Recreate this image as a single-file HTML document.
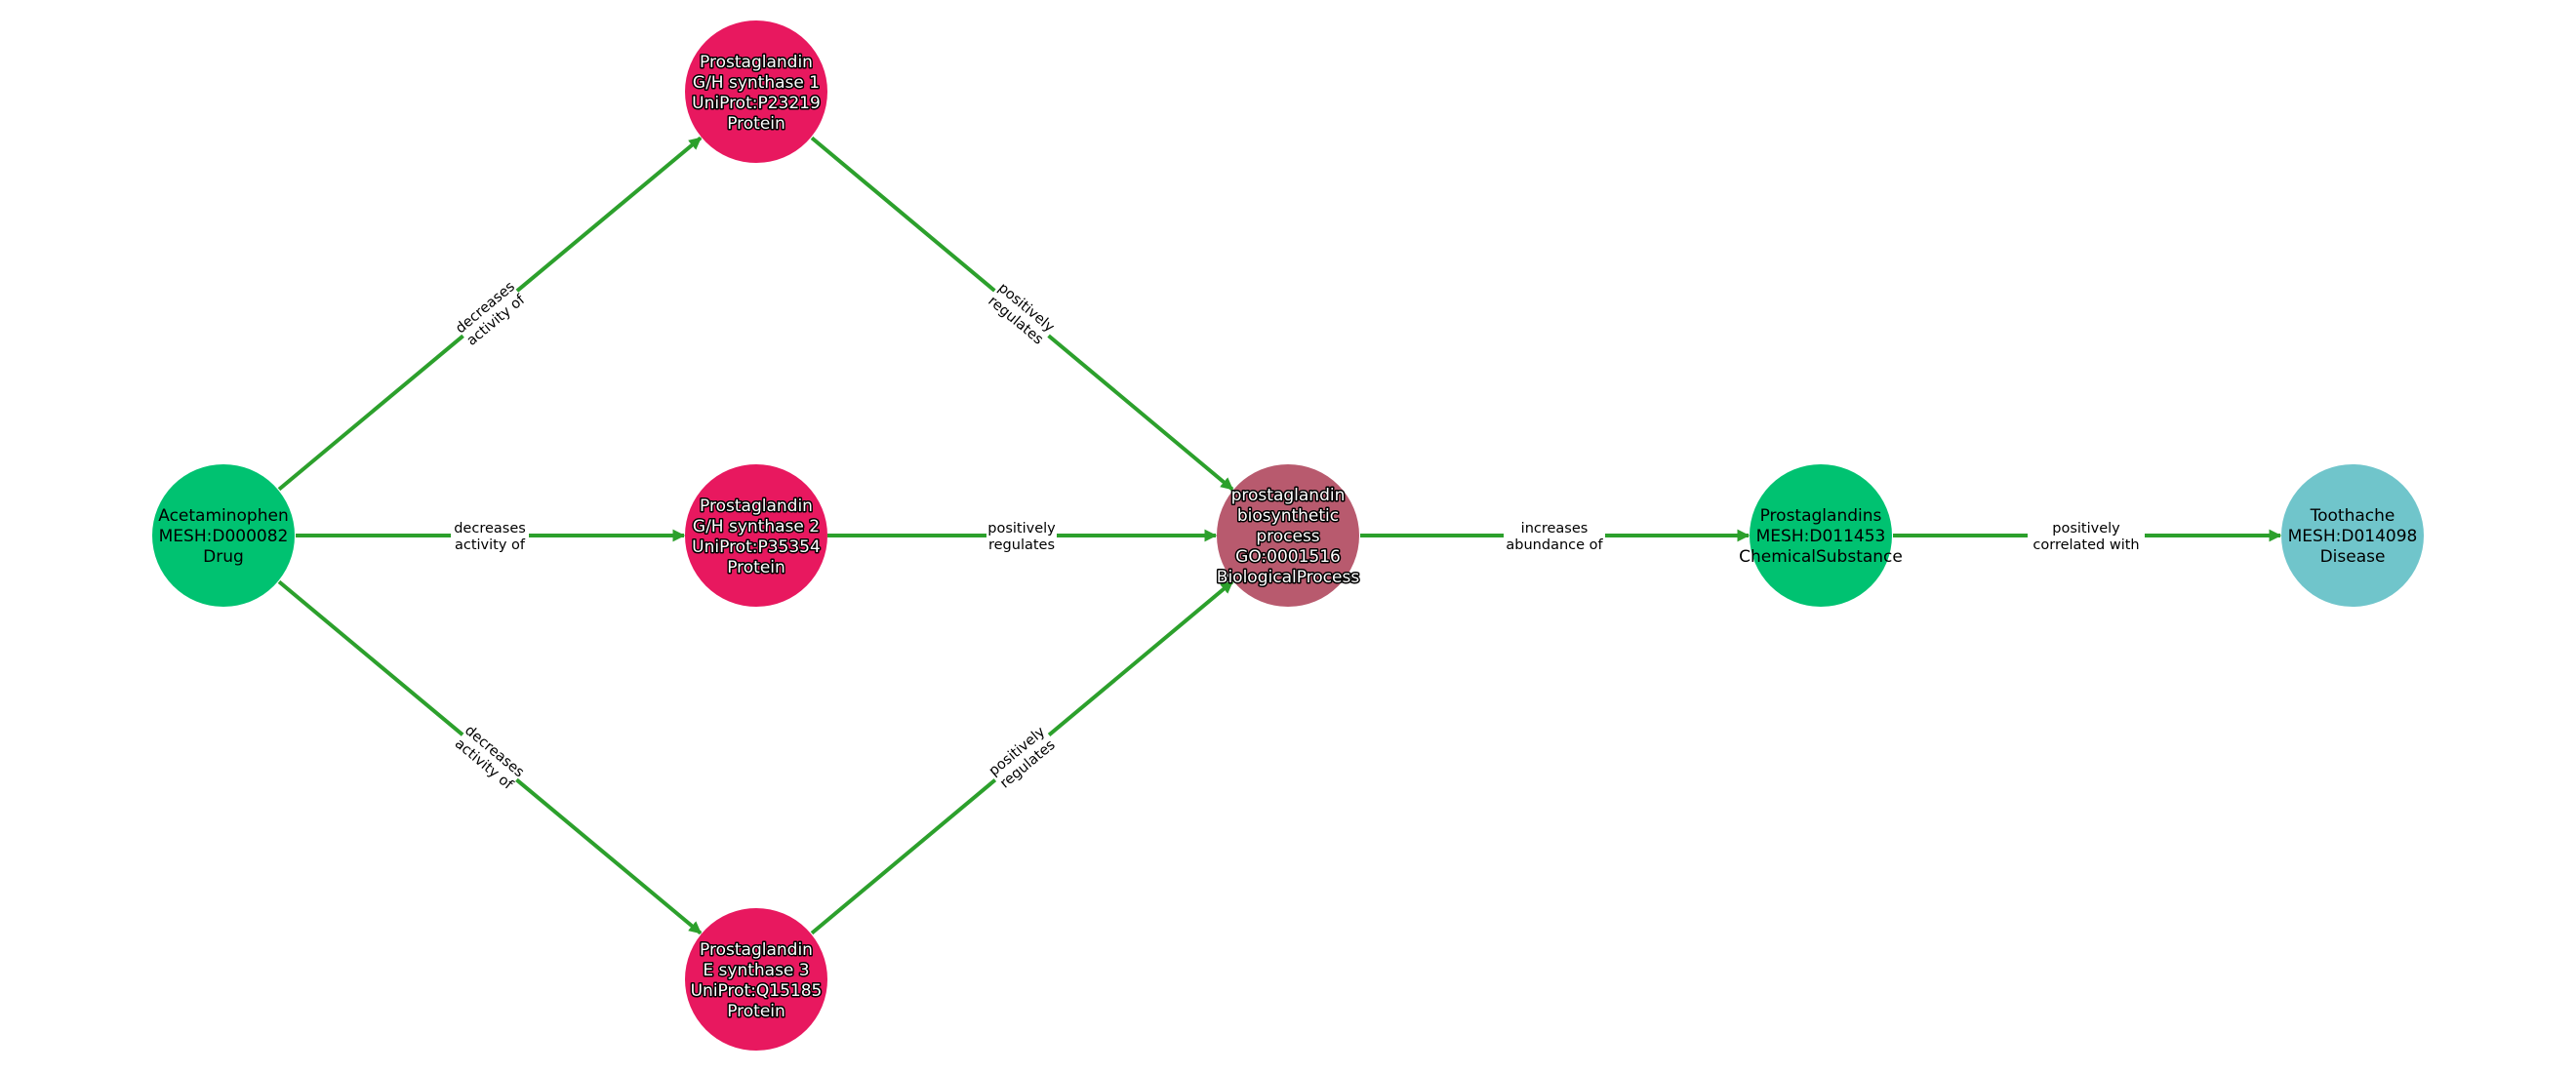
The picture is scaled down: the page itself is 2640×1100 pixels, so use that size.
<!DOCTYPE html>
<html><head><meta charset="utf-8"><style>
html,body{margin:0;padding:0;background:#fff;}
svg{display:block;}
text{font-family:"DejaVu Sans","Liberation Sans",sans-serif;}
.n{font-size:17px;text-anchor:middle;}
.w{fill:#fff;stroke:#000;stroke-width:3px;paint-order:stroke;stroke-linejoin:round;}
.b{fill:#000;}
.e{font-size:14.5px;text-anchor:middle;fill:#000;}
</style></head><body>
<svg width="2640" height="1100" viewBox="0 0 2640 1100" xmlns="http://www.w3.org/2000/svg">
<defs>
<marker id="a" viewBox="0 0 10 10" refX="9" refY="5" markerWidth="3.2" markerHeight="3.2" orient="auto" markerUnits="strokeWidth">
<path d="M0,0 L10,5 L0,10 z" fill="#2ca02c"/>
</marker>
</defs>
<g stroke="#2ca02c" stroke-width="4" fill="none" marker-end="url(#a)">
<line x1="286" y1="501.6" x2="718" y2="141.4"/>
<line x1="303" y1="549" x2="701" y2="549"/>
<line x1="286" y1="596.4" x2="718" y2="956.6"/>
<line x1="832" y1="141.4" x2="1263" y2="501.6"/>
<line x1="848" y1="549" x2="1246" y2="549"/>
<line x1="832" y1="956.6" x2="1263" y2="596.4"/>
<line x1="1394" y1="549" x2="1792" y2="549"/>
<line x1="1940" y1="549" x2="2337" y2="549"/>
</g>
<!-- edge labels -->
<g class="e">
<g transform="translate(502,321) rotate(-39.8)"><rect x="-36" y="-19" width="72" height="38" fill="#fff"/><text y="-3">decreases</text><text y="14">activity of</text></g>
<g transform="translate(502,549)"><rect x="-40" y="-19" width="80" height="38" fill="#fff"/><text y="-3">decreases</text><text y="14">activity of</text></g>
<g transform="translate(502,776) rotate(39.8)"><rect x="-36" y="-19" width="72" height="38" fill="#fff"/><text y="-3">decreases</text><text y="14">activity of</text></g>
<g transform="translate(1047,321) rotate(39.8)"><rect x="-36" y="-19" width="72" height="38" fill="#fff"/><text y="-3">positively</text><text y="14">regulates</text></g>
<g transform="translate(1047,549)"><rect x="-36" y="-19" width="72" height="38" fill="#fff"/><text y="-3">positively</text><text y="14">regulates</text></g>
<g transform="translate(1047,776) rotate(-39.8)"><rect x="-36" y="-19" width="72" height="38" fill="#fff"/><text y="-3">positively</text><text y="14">regulates</text></g>
<g transform="translate(1593,549)"><rect x="-52" y="-19" width="104" height="38" fill="#fff"/><text y="-3">increases</text><text y="14">abundance of</text></g>
<g transform="translate(2138,549)"><rect x="-60" y="-19" width="120" height="38" fill="#fff"/><text y="-3">positively</text><text y="14">correlated with</text></g>
</g>
<!-- nodes -->
<circle cx="229" cy="549" r="73" fill="#00c271"/>
<circle cx="775" cy="94" r="73" fill="#e8185f"/>
<circle cx="775" cy="549" r="73" fill="#e8185f"/>
<circle cx="775" cy="1004" r="73" fill="#e8185f"/>
<circle cx="1320" cy="549" r="73" fill="#b85a6e"/>
<circle cx="1866" cy="549" r="73" fill="#00c271"/>
<circle cx="2411" cy="549" r="73" fill="#70c5cb"/>
<g class="n b">
<text x="229" y="534">Acetaminophen</text><text x="229" y="555">MESH:D000082</text><text x="229" y="576">Drug</text>
<text x="1866" y="534">Prostaglandins</text><text x="1866" y="555">MESH:D011453</text><text x="1866" y="576">ChemicalSubstance</text>
<text x="2411" y="534">Toothache</text><text x="2411" y="555">MESH:D014098</text><text x="2411" y="576">Disease</text>
</g>
<g class="n w">
<text x="775" y="69">Prostaglandin</text><text x="775" y="90">G/H synthase 1</text><text x="775" y="111">UniProt:P23219</text><text x="775" y="132">Protein</text>
<text x="775" y="524">Prostaglandin</text><text x="775" y="545">G/H synthase 2</text><text x="775" y="566">UniProt:P35354</text><text x="775" y="587">Protein</text>
<text x="775" y="979">Prostaglandin</text><text x="775" y="1000">E synthase 3</text><text x="775" y="1021">UniProt:Q15185</text><text x="775" y="1042">Protein</text>
<text x="1320" y="513">prostaglandin</text><text x="1320" y="534">biosynthetic</text><text x="1320" y="555">process</text><text x="1320" y="576">GO:0001516</text><text x="1320" y="597">BiologicalProcess</text>
</g>
</svg>
</body></html>
